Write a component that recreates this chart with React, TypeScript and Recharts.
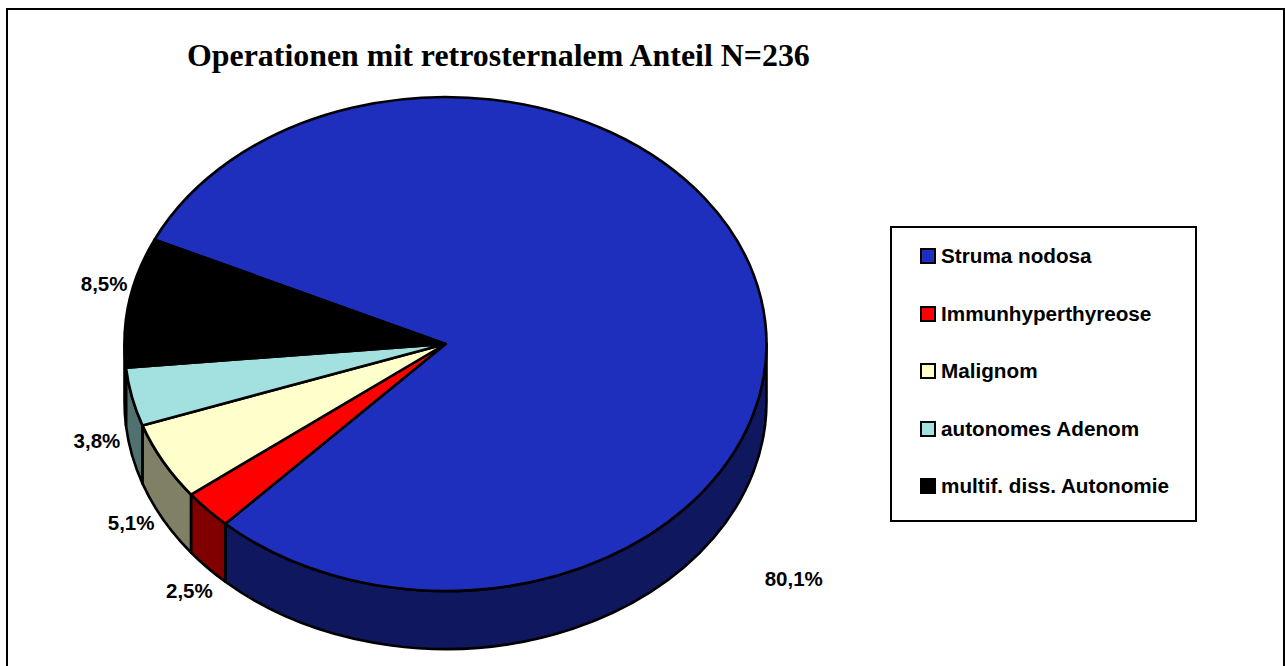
import { PieChart, Pie, Legend } from "recharts";

const categories = [
  "Struma nodosa",
  "Immunhyperthyreose",
  "Malignom",
  "autonomes Adenom",
  "multif. diss. Autonomie",
];
// operations per category, N=236
const counts = [189, 6, 12, 9, 20];
const percentLabels = ["80,1%", "2,5%", "5,1%", "3,8%", "8,5%"];
const topColors = ["#1E2FBD", "#FF0000", "#FFFFCC", "#A3E0E0", "#000000"];
const wallColors = ["#0F185F", "#800000", "#808066", "#517070", "#000000"];
// label offset from the rim point at the slice's middle angle
const labelOffsets = [
  [33, 281],
  [-18, 81],
  [-32, 61],
  [-35, 44],
  [-25, -19],
];

const WIDTH = 1285;
const HEIGHT = 666;
const CX = 445.5;
const CY = 344;
const RX = 321;
const RY = 247;
const DEPTH = 58;
const RAD = Math.PI / 180;

const topData = categories.map((name, i) => ({ name, value: counts[i], fill: topColors[i] }));
const wallData = categories.map((name, i) => ({ name, value: counts[i], fill: wallColors[i] }));

const rim = (cx: number, cy: number, rx: number, angle: number) => ({
  x: cx + rx * Math.cos(angle * RAD),
  y: cy - rx * (RY / RX) * Math.sin(angle * RAD),
});

// Recharts hands us the computed angles, we only squash the circle into an ellipse
function TopSlice({ cx, cy, outerRadius, startAngle, endAngle, fill }: any) {
  const ry = outerRadius * (RY / RX);
  const a = rim(cx, cy, outerRadius, startAngle);
  const b = rim(cx, cy, outerRadius, endAngle);
  const large = Math.abs(startAngle - endAngle) > 180 ? 1 : 0;
  return (
    <path
      d={`M${cx},${cy} L${a.x},${a.y} A${outerRadius},${ry} 0 ${large} 1 ${b.x},${b.y} Z`}
      fill={fill}
      stroke="#000"
      strokeWidth={2.6}
      strokeLinejoin="round"
    />
  );
}

// Extruded side, only the part on the front half of the ellipse shows
function WallSlice({ cx, cy, outerRadius, startAngle, endAngle, fill }: any) {
  const from = Math.min(startAngle, 0);
  const to = Math.max(endAngle, -180);
  if (from <= to) return null;
  const ry = outerRadius * (RY / RX);
  const a = rim(cx, cy, outerRadius, from);
  const b = rim(cx, cy, outerRadius, to);
  const large = from - to > 180 ? 1 : 0;
  return (
    <path
      d={`M${a.x},${a.y} A${outerRadius},${ry} 0 ${large} 1 ${b.x},${b.y} L${b.x},${b.y + DEPTH} A${outerRadius},${ry} 0 ${large} 0 ${a.x},${a.y + DEPTH} Z`}
      fill={fill}
      stroke="#000"
      strokeWidth={2.6}
      strokeLinejoin="round"
    />
  );
}

function renderPercentLabel({ cx, cy, outerRadius, midAngle, index }: any) {
  const p = rim(cx, cy, outerRadius, midAngle);
  return (
    <text
      key={index}
      x={p.x + labelOffsets[index][0]}
      y={p.y + labelOffsets[index][1]}
      textAnchor="middle"
      dominantBaseline="central"
      fontFamily="'Liberation Sans', Arial, sans-serif"
      fontWeight="bold"
      fontSize={20.5}
      fill="#000"
    >
      {percentLabels[index]}
    </text>
  );
}

function LegendBox() {
  return (
    <div
      style={{
        boxSizing: "border-box",
        width: 307,
        height: 296,
        border: "2.5px solid #000",
        background: "#fff",
        fontFamily: "'Liberation Sans', Arial, sans-serif",
        fontWeight: "bold",
        fontSize: 20.7,
        color: "#000",
      }}
    >
      {categories.map((name, i) => (
        <div
          key={name}
          style={{
            position: "absolute",
            left: 30,
            top: 16 + i * 57.5,
            height: 28,
            lineHeight: "28px",
            whiteSpace: "nowrap",
          }}
        >
          <span
            style={{
              position: "absolute",
              left: 0,
              top: 6,
              width: 12,
              height: 12,
              border: "2px solid #000",
              background: topColors[i],
            }}
          />
          <span style={{ marginLeft: 21 }}>{name}</span>
        </div>
      ))}
    </div>
  );
}

export default function App() {
  return (
    <div
      style={{
        position: "absolute",
        left: 0,
        top: 0,
        width: WIDTH,
        height: HEIGHT,
        overflow: "hidden",
        background: "#fff",
      }}
    >
      <div
        style={{
          position: "absolute",
          left: 6,
          top: 8,
          width: 1279,
          height: 720,
          boxSizing: "border-box",
          border: "2.5px solid #000",
        }}
      />
      <PieChart width={WIDTH} height={HEIGHT} margin={{ top: 0, right: 0, bottom: 0, left: 0 }}>
        <text
          x={187}
          y={66}
          fontFamily="'Liberation Serif', 'Times New Roman', serif"
          fontWeight="bold"
          fontSize={31.9}
          fill="#000"
        >
          Operationen mit retrosternalem Anteil N=236
        </text>
        <Pie
          data={wallData}
          dataKey="value"
          nameKey="name"
          cx={CX}
          cy={CY}
          outerRadius={RX}
          startAngle={155}
          endAngle={-205}
          shape={WallSlice}
          legendType="none"
          isAnimationActive={false}
        />
        <Pie
          data={topData}
          dataKey="value"
          nameKey="name"
          cx={CX}
          cy={CY}
          outerRadius={RX}
          startAngle={155}
          endAngle={-205}
          shape={TopSlice}
          label={renderPercentLabel}
          labelLine={false}
          isAnimationActive={false}
        />
        <Legend
          content={<LegendBox />}
          wrapperStyle={{ position: "absolute", left: 890, top: 226, width: 307, height: 296, bottom: "auto", right: "auto" }}
        />
      </PieChart>
    </div>
  );
}
